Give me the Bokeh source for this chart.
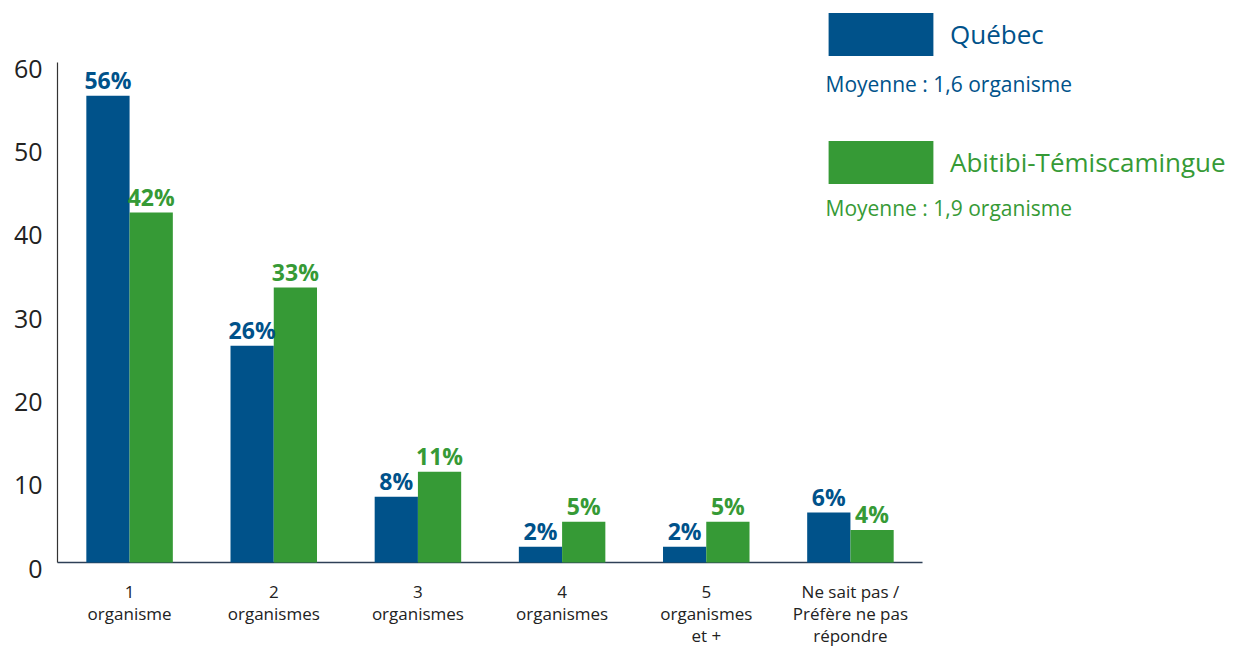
from bokeh.plotting import figure
from bokeh.models import ColumnDataSource, Range1d, Legend, LegendItem, Label
from bokeh.core.properties import value
from bokeh.embed import file_html
from bokeh.resources import INLINE

categories = ["1\norganisme", "2\norganismes", "3\norganismes", "4\norganismes",
              "5\norganismes\net +", "Ne sait pas /\nPréfère ne pas\nrépondre"]
quebec = [56.0, 26.0, 7.9, 1.9, 1.9, 6.0]
abitibi = [42.0, 33.0, 10.9, 4.9, 4.9, 3.9]
quebec_labels = ["56%", "26%", "8%", "2%", "2%", "6%"]
abitibi_labels = ["42%", "33%", "11%", "5%", "5%", "4%"]
series_names = ["Québec", "Abitibi-Témiscamingue"]
moyennes = ["Moyenne : 1,6 organisme", "Moyenne : 1,9 organisme"]
y_ticks = [0, 10, 20, 30, 40, 50, 60]
y_tick_labels = ["0", "10", "20", "30", "40", "50", "60"]

BLUE = "#00528a"
GREEN = "#369a36"
FONT = "Open Sans"

# layout constants (canvas pixels)
W, H = 1233, 648
AXIS_X = 57          # canvas x of the value axis
ZERO_Y = 562         # canvas y of value 0
PX_PER_UNIT = 500 / 60
GROUP_PX = 144.17    # width of one category group
BAR_W = 0.3
OFF = 0.15
LABEL_TOP = 29       # px below baseline of first category-label line (centre)
LABEL_STEP = 22      # px between category-label lines

n = len(categories)
centers = [i + 0.5 for i in range(n)]
src = ColumnDataSource(dict(
    cat=categories, xc=centers,
    xq=[c - OFF for c in centers], xa=[c + OFF for c in centers],
    q=quebec, a=abitibi, ql=quebec_labels, al=abitibi_labels,
    zero=[0] * n))
tick_src = ColumnDataSource(dict(y=y_ticks, t=y_tick_labels, x=[0] * len(y_ticks)))

x_start = -AXIS_X / GROUP_PX
x_end = (W - AXIS_X) / GROUP_PX
y_start = -(H - ZERO_Y) / PX_PER_UNIT
y_end = ZERO_Y / PX_PER_UNIT

p = figure(width=W, height=H, x_range=Range1d(x_start, x_end), y_range=Range1d(y_start, y_end),
           output_backend="svg", toolbar_location=None,
           min_border_left=0, min_border_right=0, min_border_top=0, min_border_bottom=0)
p.outline_line_color = None
p.xgrid.grid_line_color = None
p.ygrid.grid_line_color = None
p.xaxis.visible = False
p.yaxis.visible = False

# axis lines
p.segment(x0=[0], y0=[0], x1=[n], y1=[0], line_color="#2e4057", line_width=1.5)
p.segment(x0=[0], y0=[0], x1=[0], y1=[max(y_ticks)], line_color="#333333", line_width=1.2)

# y tick labels (sit slightly below their tick value, as in the original)
p.text(x="x", y="y", text="t", source=tick_src, text_align="right", text_baseline="middle",
       x_offset=-15, y_offset=6, text_font=value(FONT), text_font_size="25px",
       text_color="#222222")

rq = p.vbar(x="xq", top="q", width=BAR_W, source=src, fill_color=BLUE, line_color=None)
ra = p.vbar(x="xa", top="a", width=BAR_W, source=src, fill_color=GREEN, line_color=None)

p.text(x="xq", y="q", text="ql", source=src, text_align="center", text_baseline="bottom",
       y_offset=0, text_font=value(FONT), text_font_style="bold", text_font_size="23px",
       text_color=BLUE)
p.text(x="xa", y="a", text="al", source=src, text_align="center", text_baseline="bottom",
       y_offset=0, text_font=value(FONT), text_font_style="bold", text_font_size="23px",
       text_color=GREEN)

# category labels under the baseline, one line at a time
split = [c.split("\n") for c in categories]
for li in range(max(len(s) for s in split)):
    xs = [centers[i] for i, s in enumerate(split) if len(s) > li]
    ts = [s[li] for s in split if len(s) > li]
    p.text(x=xs, y=[0] * len(xs), text=ts, text_align="center", text_baseline="middle",
           y_offset=LABEL_TOP + li * LABEL_STEP, text_font=value(FONT),
           text_font_size="17px", text_color="#222222")

# legends (frame-relative coordinates, origin bottom-left of frame)
for r, name, col, yloc in [(rq, series_names[0], BLUE, H - 60.5),
                           (ra, series_names[1], GREEN, H - 188.5)]:
    lg = Legend(items=[LegendItem(label=name, renderers=[r])], location=(815, yloc),
                glyph_width=131, glyph_height=54, label_standoff=4, padding=0, margin=0,
                border_line_color=None, background_fill_alpha=0,
                label_text_font=FONT, label_text_font_size="26px", label_text_color=col)
    p.add_layout(lg, "center")

for txt, col, yy in [(moyennes[0], BLUE, H - 83), (moyennes[1], GREEN, H - 207)]:
    p.add_layout(Label(x=825, y=yy, x_units="screen", y_units="screen", text=txt,
                       text_color=col, text_font=FONT, text_font_size="21px",
                       text_baseline="middle", text_align="left"))

open("out.html", "w").write(file_html(p, INLINE))
